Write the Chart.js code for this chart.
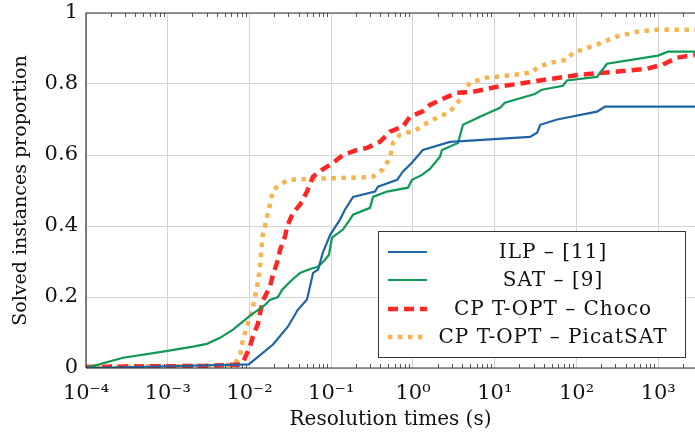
<!DOCTYPE html>
<html>
<head>
<meta charset="utf-8">
<script src="https://cdn.jsdelivr.net/npm/chart.js@4.4.1/dist/chart.umd.min.js"></script>
<style>
  html, body { margin: 0; padding: 0; background: #fff; }
  #wrap { width: 695px; height: 436px; }
</style>
</head>
<body>
<div id="wrap"><canvas id="myChart"></canvas></div>
<script>
// ILP - [11]
const ilpTimes = [1e-4, 0.001, 0.0098, 0.0194, 0.0296, 0.039, 0.0505, 0.06, 0.069, 0.079, 0.097, 0.128, 0.147, 0.185, 0.343, 0.373, 0.64, 0.75, 0.97, 1.12, 1.32, 2.84, 27, 33, 36, 58, 178, 223, 2818]
const ilpSolved = [0, 0.005, 0.01, 0.066, 0.117, 0.164, 0.193, 0.268, 0.277, 0.325, 0.375, 0.418, 0.446, 0.482, 0.497, 0.511, 0.53, 0.553, 0.578, 0.595, 0.614, 0.637, 0.651, 0.663, 0.685, 0.70, 0.722, 0.736, 0.736]

// SAT - [9]
const satTimes = [1e-4, 2.84e-4, 8.75e-4, 0.00204, 0.00302, 0.00436, 0.00628, 0.0101, 0.0155, 0.0178, 0.0223, 0.025, 0.0313, 0.0415, 0.055, 0.0689, 0.084, 0.0938, 0.102, 0.139, 0.147, 0.169, 0.185, 0.298, 0.324, 0.481, 0.869, 0.973, 1.29, 1.61, 2.14, 2.26, 3.55, 4.09, 6.6, 11.6, 13.3, 31, 37.8, 68.4, 76.5, 178, 236, 993, 1315, 2818]
const satSolved = [0, 0.029, 0.046, 0.06, 0.068, 0.085, 0.108, 0.147, 0.178, 0.192, 0.2, 0.22, 0.243, 0.268, 0.279, 0.285, 0.305, 0.319, 0.367, 0.39, 0.398, 0.418, 0.432, 0.451, 0.482, 0.497, 0.508, 0.53, 0.544, 0.561, 0.595, 0.614, 0.634, 0.685, 0.708, 0.733, 0.747, 0.772, 0.784, 0.795, 0.81, 0.82, 0.857, 0.88, 0.891, 0.891]

// CP T-OPT - Choco
const chocoTimes = [1e-4, 0.003, 0.0077, 0.0083, 0.0101, 0.011, 0.0127, 0.0144, 0.0178, 0.0194, 0.0217, 0.0237, 0.0272, 0.0288, 0.034, 0.0415, 0.0505, 0.0598, 0.077, 0.105, 0.139, 0.206, 0.274, 0.394, 0.524, 0.755, 0.918, 1.29, 1.61, 2.46, 3.45, 5.42, 10.7, 24.8, 43.5, 110, 279, 728, 1143, 1694, 2818]
const chocoSolved = [0.003, 0.006, 0.01, 0.015, 0.06, 0.088, 0.125, 0.187, 0.229, 0.263, 0.296, 0.333, 0.37, 0.398, 0.437, 0.46, 0.497, 0.539, 0.558, 0.578, 0.6, 0.614, 0.62, 0.637, 0.666, 0.68, 0.708, 0.722, 0.741, 0.761, 0.775, 0.778, 0.792, 0.804, 0.813, 0.826, 0.834, 0.843, 0.855, 0.874, 0.882]

// CP T-OPT - PicatSAT
const picatTimes = [1e-4, 0.003, 0.0066, 0.0077, 0.0083, 0.0096, 0.0107, 0.0124, 0.0134, 0.0144, 0.0164, 0.0178, 0.0194, 0.0237, 0.0296, 0.0598, 0.244, 0.324, 0.43, 0.524, 0.569, 0.693, 0.846, 1.0, 1.22, 1.48, 1.97, 2.84, 3.76, 4.09, 4.98, 8.04, 11.6, 22.2, 29.4, 32.9, 47.4, 76.5, 90.6, 178, 313, 550, 966, 2818]
const picatSolved = [0.003, 0.006, 0.01, 0.037, 0.08, 0.127, 0.159, 0.229, 0.28, 0.37, 0.426, 0.46, 0.502, 0.516, 0.53, 0.533, 0.537, 0.539, 0.56, 0.592, 0.634, 0.657, 0.663, 0.666, 0.677, 0.69, 0.705, 0.722, 0.756, 0.778, 0.804, 0.818, 0.821, 0.829, 0.834, 0.846, 0.86, 0.868, 0.888, 0.911, 0.934, 0.947, 0.953, 0.953]

const xExponents = [-4, -3, -2, -1, 0, 1, 2, 3]
const yTicks = [0, 0.2, 0.4, 0.6, 0.8, 1]
const xMin = 1e-4
const xMax = 2818

const SERIF = "'DejaVu Serif', 'Liberation Serif', serif"
const SUP = {'-': '\u207B', '0': '\u2070', '1': '\u00B9', '2': '\u00B2', '3': '\u00B3', '4': '\u2074'}

function toPoints(xs, ys){
    return xs.map((x, i) => ({x, y: ys[i]}))
}

// frame, minor ticks and legend box
const decorations = {
    id: 'decorations',
    beforeDatasetsDraw(chart){
        const {ctx, chartArea: a, scales: {x}} = chart
        ctx.save()
        ctx.strokeStyle = '#555'
        ctx.lineWidth = 1
        for(let e = -4; e <= 3; e++){
            for(let m = 2; m <= 9; m++){
                const v = m * Math.pow(10, e)
                if(v > xMax) continue
                const px = Math.round(x.getPixelForValue(v)) + 0.5
                ctx.beginPath()
                ctx.moveTo(px, a.bottom); ctx.lineTo(px, a.bottom - 4)
                ctx.moveTo(px, a.top); ctx.lineTo(px, a.top + 4)
                ctx.stroke()
            }
        }
        ctx.restore()
    },
    afterDraw(chart){
        const {ctx, chartArea: a} = chart
        ctx.save()
        ctx.strokeStyle = '#333'
        ctx.lineWidth = 1.2
        ctx.beginPath()
        ctx.moveTo(a.left, a.bottom); ctx.lineTo(a.left, a.top); ctx.lineTo(a.right, a.top)
        ctx.moveTo(a.left, a.bottom); ctx.lineTo(a.right, a.bottom)
        ctx.stroke()

        // legend
        const bx = 378, by = 231, bw = 307, bh = 126
        ctx.fillStyle = '#fff'
        ctx.fillRect(bx, by, bw, bh)
        ctx.strokeStyle = '#333'
        ctx.lineWidth = 1
        ctx.strokeRect(bx + 0.5, by + 0.5, bw, bh)
        const rows = [252, 280, 309, 337]
        ctx.font = `20px ${SERIF}`
        ctx.letterSpacing = '1px'
        ctx.textAlign = 'center'
        ctx.textBaseline = 'middle'
        chart.data.datasets.forEach((ds, i) => {
            const y = rows[i]
            ctx.strokeStyle = ds.borderColor
            ctx.lineWidth = ds.borderWidth
            ctx.setLineDash(ds.borderDash || [])
            ctx.beginPath()
            ctx.moveTo(388, y); ctx.lineTo(427, y)
            ctx.stroke()
            ctx.setLineDash([])
            ctx.fillStyle = '#111'
            ctx.fillText(ds.label, 553, y + 1)
        })
        ctx.restore()
    }
}

function displayChart(){
    const ctx = document.getElementById('myChart')
    new Chart(ctx, {
        type: 'line',
        data: {
            datasets: [{
                label: 'ILP \u2013 [11]',
                data: toPoints(ilpTimes, ilpSolved),
                borderColor: '#1f65a6',
                borderWidth: 2.2
            }, {
                label: 'SAT \u2013 [9]',
                data: toPoints(satTimes, satSolved),
                borderColor: '#0f9856',
                borderWidth: 2.2
            }, {
                label: 'CP T-OPT \u2013 Choco',
                data: toPoints(chocoTimes, chocoSolved),
                borderColor: '#ff2626',
                borderWidth: 4.5,
                borderDash: [10, 6]
            }, {
                label: 'CP T-OPT \u2013 PicatSAT',
                data: toPoints(picatTimes, picatSolved),
                borderColor: '#f5b450',
                borderWidth: 4.5,
                borderDash: [4.5, 5.5]
            }]
        },
        options: {
            responsive: false,
            animation: false,
            layout: { padding: { top: 13, right: 0, left: 0, bottom: 0 } },
            elements: {
                point: { radius: 0 },
                line: { tension: 0, fill: false, borderCapStyle: 'butt' }
            },
            scales: {
                x: {
                    type: 'logarithmic',
                    min: xMin,
                    max: xMax,
                    afterBuildTicks(scale){
                        scale.ticks = xExponents.map(e => ({value: Math.pow(10, e), major: true}))
                    },
                    afterFit(scale){
                        scale.height = 68
                        scale.paddingLeft = 0
                        scale.paddingRight = 0
                    },
                    grid: { color: '#d4d4d4', lineWidth: 1, drawTicks: false },
                    border: { display: false },
                    ticks: {
                        autoSkip: false,
                        maxRotation: 0,
                        padding: 13,
                        color: '#111',
                        font: { family: SERIF, size: 21 },
                        callback: (v) => '10' + String(Math.round(Math.log10(v))).split('').map(c => SUP[c]).join('')
                    },
                    title: {
                        display: true,
                        text: 'Resolution times (s)',
                        color: '#111',
                        font: { family: SERIF, size: 20 },
                        padding: { top: 0, bottom: 4 }
                    }
                },
                y: {
                    min: 0,
                    max: 1,
                    afterBuildTicks(scale){
                        scale.ticks = yTicks.map(v => ({value: v}))
                    },
                    afterFit(scale){
                        scale.width = 86
                        scale.paddingTop = 0
                        scale.paddingBottom = 0
                    },
                    grid: { color: '#d4d4d4', lineWidth: 1, drawTicks: false },
                    border: { display: false },
                    ticks: {
                        padding: 8,
                        color: '#111',
                        font: { family: SERIF, size: 21 },
                        callback: (v) => String(Math.round(v * 10) / 10)
                    },
                    title: {
                        display: true,
                        text: 'Solved instances proportion',
                        color: '#111',
                        font: { family: SERIF, size: 19 },
                        padding: { top: 10, bottom: 4 }
                    }
                }
            },
            plugins: {
                legend: { display: false },
                tooltip: { enabled: false }
            }
        },
        plugins: [decorations]
    })
}

const canvas = document.getElementById('myChart')
canvas.width = 695
canvas.height = 436
displayChart()
</script>
</body>
</html>
